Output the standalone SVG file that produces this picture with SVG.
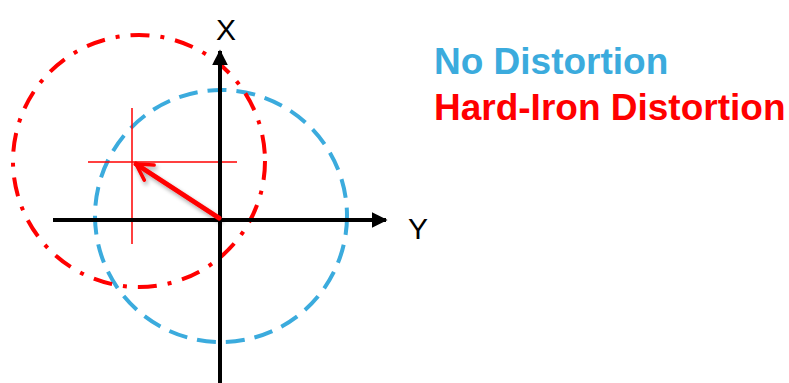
<svg xmlns="http://www.w3.org/2000/svg" width="789" height="383" viewBox="0 0 789 383">
  <defs>
    <style>
      .axis{stroke:#000;stroke-width:4;fill:none}
      .lbl{font-family:"Liberation Sans",Arial,sans-serif;font-size:30px;fill:#000}
      .legend{font-family:"Liberation Sans",Arial,sans-serif;font-weight:bold;font-size:37px}
    </style>
    <marker id="ah" viewBox="0 0 10 10" refX="9" refY="5" markerWidth="4" markerHeight="4" orient="auto" markerUnits="strokeWidth">
      <path d="M0,0 L10,5 L0,10 Z" fill="#000"/>
    </marker>
    <marker id="rh" viewBox="0 0 10 10" refX="8" refY="5" markerWidth="4.5" markerHeight="4.5" orient="auto" markerUnits="strokeWidth">
      <path d="M1,1 L8,5 L1,9" fill="none" stroke="#FF0000" stroke-width="1.6" stroke-linecap="round" stroke-linejoin="round"/>
    </marker>
    <filter id="sh" x="-20%" y="-20%" width="140%" height="140%">
      <feGaussianBlur in="SourceAlpha" stdDeviation="2"/>
      <feOffset dx="2" dy="3" result="b"/>
      <feComponentTransfer><feFuncA type="linear" slope="0.35"/></feComponentTransfer>
      <feMerge><feMergeNode/><feMergeNode in="SourceGraphic"/></feMerge>
    </filter>
  </defs>
  <g id="no-distortion-circle">
    <circle cx="221" cy="216" r="126" fill="none" stroke="#3BABDD" stroke-width="4" stroke-dasharray="19 10"/>
  </g>
  <g id="hard-iron-circle">
    <circle cx="139" cy="161" r="126" fill="none" stroke="#FF0000" stroke-width="4" stroke-dasharray="19 11 4 11"/>
  </g>
  <g id="crosshair">
    <line x1="88" y1="162" x2="237" y2="162" stroke="#FF0000" stroke-width="1.5"/>
    <line x1="132" y1="108" x2="132" y2="244" stroke="#FF0000" stroke-width="1.5"/>
  </g>
  <g id="axes">
    <line class="axis" x1="220" y1="383" x2="220" y2="51" marker-end="url(#ah)"/>
    <line class="axis" x1="53" y1="220" x2="386" y2="220" marker-end="url(#ah)"/>
    <text class="lbl" x="216" y="40">X</text>
    <text class="lbl" x="408" y="239">Y</text>
  </g>
  <g id="connectors">
    <line x1="219" y1="218" x2="136" y2="164" stroke="#FF0000" stroke-width="5" stroke-linecap="round" marker-end="url(#rh)" filter="url(#sh)"/>
  </g>
  <g id="legend">
    <text class="legend" x="434" y="74" fill="#3BABDD">No Distortion</text>
    <text class="legend" x="434" y="120" fill="#FF0000">Hard-Iron Distortion</text>
  </g>
</svg>
